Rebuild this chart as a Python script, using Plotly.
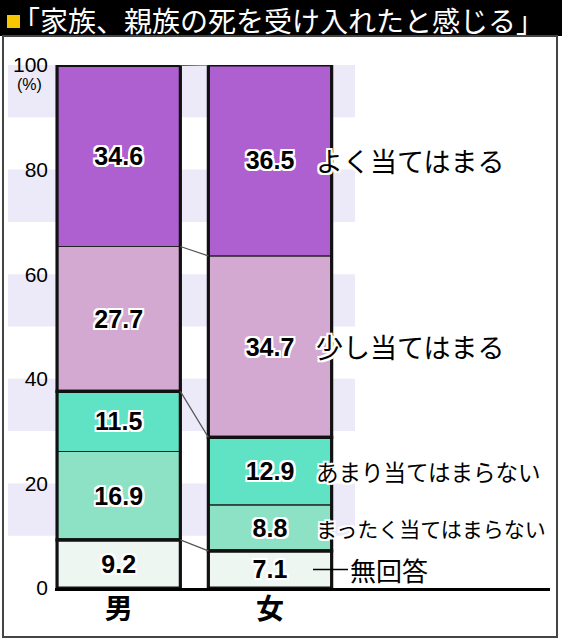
import plotly.graph_objects as go
import numpy as np

# data (bottom -> top of each bar)
categories = ['男', '女']
series_names = ['無回答', 'まったく当てはまらない', 'あまり当てはまらない',
                '少し当てはまる', 'よく当てはまる']
Values_NoAnswer = [9.2, 7.1]
Values_NotAtAll = [16.9, 8.8]
Values_NotMuch  = [11.5, 12.9]
Values_Somewhat = [27.7, 34.7]
Values_Very     = [34.6, 36.5]
y_ticks = [0, 20, 40, 60, 80, 100]

title_text = '「家族、親族の死を受け入れたと感じる」'

colors = ['#EEF6F2', '#8DE2C6', '#5FE3C4', '#D4A9D1', '#AE60D0']

W, H = 562, 640
L, R, T, B = 55, 550, 65, 588   # plot area in pixels

def pxx(p):
    return (p - L) / (R - L)

def pxy(p):
    return (B - p) / (B - T)

x_pos = [0, 1]
bar_w = 0.815
unit = 151.3          # pixels per x unit

def dx(p):
    return (p - 118.7) / unit

halo = ('-2px -2px 0 #fff, 2px -2px 0 #fff, -2px 2px 0 #fff, 2px 2px 0 #fff, '
        '0 2px 0 #fff, 2px 0 0 #fff, 0 -2px 0 #fff, -2px 0 0 #fff')

stack = np.array([Values_NoAnswer, Values_NotAtAll, Values_NotMuch,
                  Values_Somewhat, Values_Very])
bases = np.vstack([np.zeros(2), np.cumsum(stack, axis=0)[:-1]])
tops = np.cumsum(stack, axis=0)

fig = go.Figure()

for i in range(len(series_names)):
    fig.add_trace(go.Bar(
        x=x_pos, y=stack[i], base=bases[i], width=bar_w,
        name=series_names[i],
        marker=dict(color=colors[i], line=dict(color='#222', width=1.2)),
        text=['%.1f' % v for v in stack[i]],
        textposition='inside', insidetextanchor='middle',
        constraintext='none', textangle=0,
        textfont=dict(family='Liberation Sans', size=25, color='black',
                      weight='bold', shadow=halo),
        showlegend=False, hoverinfo='skip'
    ))

# thick outlines round the groups: no answer / negative / positive
groups = [stack[0], stack[1] + stack[2], stack[3] + stack[4]]
gbase = [bases[0], bases[1], bases[3]]
for g, b in zip(groups, gbase):
    fig.add_trace(go.Bar(
        x=x_pos, y=g, base=b, width=bar_w,
        marker=dict(color='rgba(0,0,0,0)', line=dict(color='#111', width=3.2)),
        showlegend=False, hoverinfo='skip'
    ))

# connector lines between the bars
for yy in [tops[4], bases[4], bases[3], tops[0]]:
    fig.add_trace(go.Scatter(
        x=[bar_w / 2, 1 - bar_w / 2], y=list(yy), mode='lines',
        line=dict(color='#555', width=1.2),
        showlegend=False, hoverinfo='skip'
    ))

shapes = []
# title bar and frame
shapes.append(dict(type='rect', xref='paper', yref='paper',
                   x0=pxx(0), x1=pxx(W), y0=pxy(36), y1=pxy(0),
                   fillcolor='black', line=dict(width=0), layer='below'))
shapes.append(dict(type='rect', xref='paper', yref='paper',
                   x0=pxx(3), x1=pxx(557), y0=pxy(637), y1=pxy(36),
                   fillcolor='rgba(0,0,0,0)', line=dict(color='#444', width=2)))
shapes.append(dict(type='rect', xref='paper', yref='paper',
                   x0=pxx(7), x1=pxx(20), y0=pxy(28), y1=pxy(15),
                   fillcolor='#F6C600', line=dict(width=0)))
# light background bands
for lo in range(10, 100, 20):
    shapes.append(dict(type='rect', xref='paper', yref='y',
                       x0=pxx(8), x1=pxx(355), y0=lo, y1=lo + 10,
                       fillcolor='#ECEAF8', line=dict(width=0), layer='below'))
# leader line for no answer
na_mid = bases[0][1] + stack[0][1] / 2
shapes.append(dict(type='line', xref='x', yref='y',
                   x0=dx(313), x1=dx(348), y0=na_mid, y1=na_mid,
                   line=dict(color='black', width=1.5)))

annotations = []
annotations.append(dict(xref='paper', yref='paper', x=pxx(10), y=pxy(20),
                        xanchor='left', yanchor='middle', showarrow=False,
                        text=title_text,
                        font=dict(family='Noto Sans CJK JP', size=28, color='white')))
annotations.append(dict(xref='paper', yref='paper', x=pxx(29), y=pxy(84),
                        xanchor='center', yanchor='middle', showarrow=False,
                        text='(%)',
                        font=dict(family='Liberation Sans', size=16, color='black')))

label_sizes = [26, 21, 22.5, 27, 27]
for i in range(1, 5):
    yc = bases[i][1] + stack[i][1] / 2
    annotations.append(dict(xref='x', yref='y', x=dx(314), y=yc,
                            xanchor='left', yanchor='middle', showarrow=False,
                            text=series_names[i],
                            font=dict(family='Noto Sans CJK JP', size=label_sizes[i],
                                      color='black', shadow=halo)))
annotations.append(dict(xref='x', yref='y', x=dx(348), y=na_mid,
                        xanchor='left', yanchor='middle', showarrow=False,
                        text=series_names[0],
                        font=dict(family='Noto Sans CJK JP', size=label_sizes[0],
                                  color='black')))

fig.update_layout(
    width=W, height=H,
    margin=dict(l=L, r=W - R, t=T, b=H - B, pad=0, autoexpand=False),
    barmode='overlay',
    paper_bgcolor='white', plot_bgcolor='rgba(0,0,0,0)',
    shapes=shapes, annotations=annotations,
    xaxis=dict(range=[dx(L), dx(R)], tickvals=x_pos, ticktext=categories,
               showgrid=False, zeroline=False, showline=True, automargin=False,
               linecolor='black', linewidth=3, ticks='', ticklabelstandoff=-6,
               tickfont=dict(family='Noto Sans CJK JP', size=28, color='black',
                             weight='bold')),
    yaxis=dict(range=[0, 100], tickvals=y_ticks, showgrid=False, automargin=False,
               zeroline=False, showline=False, ticks='',
               ticklabelstandoff=6,
               tickfont=dict(family='Liberation Sans', size=21, color='black')),
)

# the page body has a default 8px margin; drop it so the figure sits at 0,0
fig.write_html("out.html", config={'displayModeBar': False},
               post_script="document.body.style.margin='0';document.body.style.overflow='hidden';")
